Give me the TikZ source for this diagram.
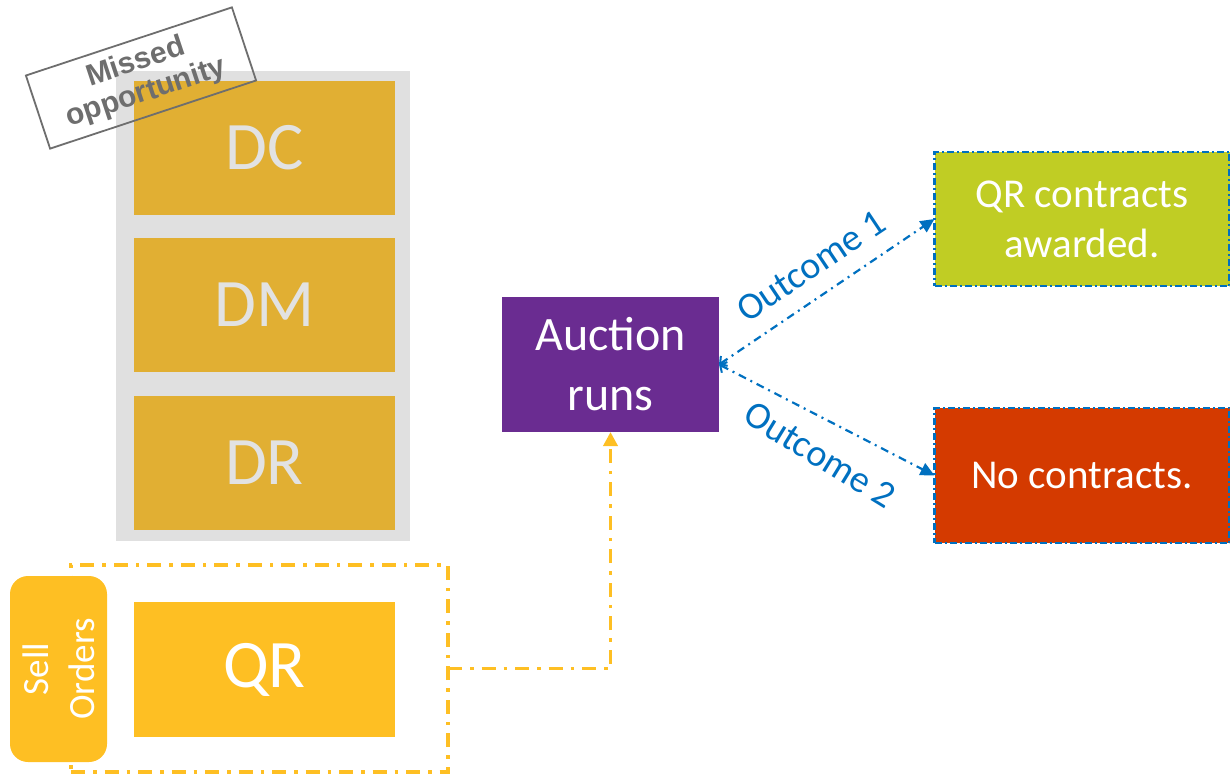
\documentclass[tikz,border=0pt]{standalone}
\usepackage{fontspec}
\setmainfont{Carlito}
\newfontfamily\arialbold[BoldFont={Liberation Sans Bold}]{Liberation Sans}
\usetikzlibrary{arrows.meta}
\definecolor{bggray}{HTML}{E0E0E0}
\definecolor{gold}{HTML}{E1AF33}
\definecolor{lgtext}{HTML}{E2E2E2}
\definecolor{yel}{HTML}{FEBF23}
\definecolor{purp}{HTML}{6A2C91}
\definecolor{grn}{HTML}{C0CD24}
\definecolor{rd}{HTML}{D43A00}
\definecolor{blu}{HTML}{0070C0}
\definecolor{lblgray}{HTML}{6E6E6E}
\tikzset{
  box/.style={rectangle, inner sep=0pt, outer sep=0pt},
  goldbox/.style={box, fill=gold, text=lgtext, minimum width=261pt, minimum height=134pt, font=\fontsize{68}{80}\selectfont},
  outbox/.style={box, draw=blu, line width=2.2pt, dash pattern=on 7pt off 3pt on 2pt off 3pt, text=white, minimum width=295pt, align=center, font=\fontsize{41}{50}\selectfont},
  yeldash/.style={draw=yel, line width=3.5pt, dash pattern=on 14pt off 8pt on 3.5pt off 8pt},
  bluarrow/.style={draw=blu, line width=2.2pt, dash pattern=on 8pt off 5pt on 2pt off 5pt, {Straight Barb[length=5pt,width=12pt,line width=2pt]}-{Triangle[length=14pt,width=13pt]}},
  outlbl/.style={text=blu, font=\fontsize{38}{44}\selectfont, inner sep=0pt}
}
\begin{document}
\begin{tikzpicture}[x=1pt,y=-1pt]
\useasboundingbox (0,0) rectangle (1230,775);
% left stack
\node[box, fill=bggray, minimum width=294pt, minimum height=470pt] (bg) at (263,306) {};
\node[goldbox] (dc) at (264.5,148) {DC};
\node[goldbox] (dm) at (264.5,305) {DM};
\node[goldbox] (dr) at (264.5,463) {DR};
% missed opportunity label
\node[box, draw=lblgray, line width=1.8pt, minimum width=217pt, minimum height=77pt, rotate=18.3, text=lblgray, align=center, font=\arialbold\bfseries\fontsize{30}{32}\selectfont] (missed) at (141,78) {Missed\\opportunity};
% QR group
\node[box, yeldash, minimum width=377pt, minimum height=207pt] (qrgroup) at (259.5,668.5) {};
\node[box, fill=yel, text=white, minimum width=261pt, minimum height=135pt, font=\fontsize{68}{80}\selectfont] (qr) at (264.5,669.5) {QR};
\node[box, fill=yel, rounded corners=18pt, minimum width=97pt, minimum height=186pt] (sell) at (58.5,669) {};
\node[text=white, rotate=90, align=center, inner sep=0pt, font=\fontsize{37}{46}\selectfont] (selltext) at (sell.center) {Sell\\Orders};
% auction
\node[box, fill=purp, text=white, minimum width=217pt, minimum height=135pt, align=center, font=\fontsize{48}{60}\selectfont] (auction) at (610.5,364.5) {Auction\\runs};
% outcomes
\node[outbox, fill=grn, minimum height=134pt] (awarded) at (1082,219) {QR contracts\\awarded.};
\node[outbox, fill=rd, minimum height=135pt] (nocon) at (1082,475.5) {No contracts.};
% connectors
\draw[yeldash, -{Triangle[length=14pt,width=14pt]}] (qrgroup.east) -| (auction.south);
\draw[bluarrow] (auction.east) -- (awarded.west);
\draw[bluarrow] (auction.east) -- (nocon.west);
\node[outlbl, rotate=33.8] (o1) at (811,266) {Outcome 1};
\node[outlbl, rotate=-31.5] (o2) at (820,455) {Outcome 2};
\end{tikzpicture}
\end{document}
